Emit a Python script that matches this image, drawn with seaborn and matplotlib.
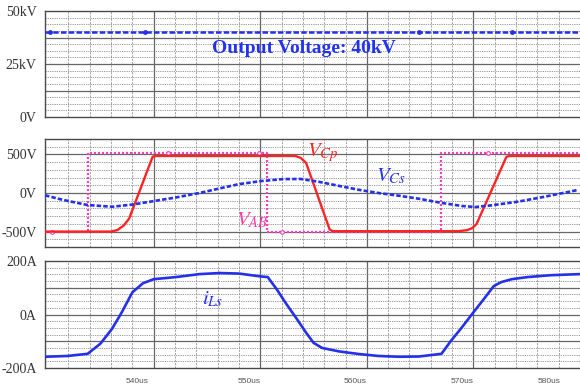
import numpy as np
import pandas as pd
import matplotlib
matplotlib.use("Agg")
import matplotlib.pyplot as plt
from matplotlib.transforms import ScaledTranslation
import seaborn as sns

# ---------------- data ----------------
# Output voltage (kV)
t_out = [529.8, 580.0]
v_out = [40.0, 40.0]
t_out_mk = [530.3, 539.2, 564.9, 573.6]
v_out_mk = [40.0, 40.0, 40.0, 40.0]

# V_Cp (V), red
t_cp = [529.8, 536.0, 536.6, 537.2, 537.7, 539.9, 540.2, 553.3, 553.8, 554.3,
        556.5, 556.8, 568.6, 569.4, 569.9, 570.3, 573.1, 573.4, 580.0]
v_cp = [-500, -500, -480, -420, -330, 470, 480, 480, 455, 390,
        -470, -495, -495, -482, -455, -400, 470, 480, 480]

# V_AB (V), pink dotted
t_ab = [529.8, 533.8, 533.8, 550.6, 550.6, 567.0, 567.0, 580.0]
v_ab = [-510, -510, 520, 520, -510, -510, 520, 520]
t_ab_mk = [530.5, 541.3, 549.9, 552.0, 571.4]
v_ab_mk = [-510, 520, 520, -510, 520]

# V_Cs (V), blue dashed
t_cs = [529.8, 531.5, 533.8, 536.1, 538.0, 540.0, 542.0, 544.3, 546.2, 548.0,
        550.1, 552.1, 553.8, 555.5, 557.4, 559.3, 561.1, 563.0, 564.9, 567.0,
        568.9, 570.2, 571.7, 574.2, 576.7, 579.8]
v_cs = [-30, -90, -156, -178, -150, -105, -60, 0, 60, 115,
        155, 180, 182, 145, 92, 40, 0, -35, -75, -128,
        -168, -182, -160, -112, -48, 39]

# i_Ls (A), blue solid
t_ls = [529.8, 531.9, 533.8, 535.0, 536.1, 537.0, 538.0, 539.0, 540.0, 542.1,
        544.3, 546.2, 548.0, 550.1, 550.7, 551.6, 552.4, 553.4, 554.3, 555.0,
        555.8, 557.4, 559.3, 561.1, 563.0, 564.9, 567.0, 567.9, 568.9, 570.0,
        571.1, 571.9, 572.6, 573.6, 575.1, 577.3, 580.0]
i_ls = [-158, -155, -147, -109, -53, 8, 83, 117, 132, 140,
        151, 155, 153, 142, 140, 91, 42, -15, -68, -106,
        -125, -138, -148, -155, -158, -157, -147, -98, -49, 8,
        64, 106, 121, 132, 140, 147, 151]

x_ticks = [540, 550, 560, 570, 580]
x_labels = ["540us", "550us", "560us", "570us", "580us"]

# ---------------- style ----------------
sns.set_style("white")
plt.rcParams["font.family"] = ["Liberation Serif", "DejaVu Serif"]
plt.rcParams["mathtext.fontset"] = "stix"

BLUE = "#2430ea"
RED = "#ff2424"
PINK = "#ff3cc0"
FRAME = "#4a4a4a"

fig = plt.figure(figsize=(5.8, 3.91), dpi=100)
L = 45 / 580
W = 1 - L
H = 391.0
ax1 = fig.add_axes([L, 1 - 117 / H, W, 106 / H])
ax2 = fig.add_axes([L, 1 - 247 / H, W, 108 / H])
ax3 = fig.add_axes([L, 1 - 368 / H, W, 107 / H])


def style(ax, ylim, major, minor_step, yt, yl):
    ax.set_xlim(529.8, 580.0)
    ax.set_ylim(*ylim)
    for x in np.arange(532, 580, 2):
        if x % 10 == 0:
            ax.axvline(x, color="#666666", lw=0.9, zorder=1)
        else:
            ax.axvline(x, color="#959595", lw=0.6, ls=(0, (2.5, 1.5)), zorder=1)
    for y in np.arange(ylim[0], ylim[1] + 1e-6, minor_step):
        ax.axhline(y, color="#8c8c8c", lw=0.6, ls=(0, (1.5, 1.2)), zorder=1)
    for y in major:
        ax.axhline(y, color="#666666", lw=0.9, zorder=1)
    ax.set_yticks(yt)
    ax.set_yticklabels(yl)
    ax.tick_params(axis="y", length=5, width=0.9, color=FRAME, pad=1,
                   labelsize=10, labelcolor="#333333")
    ax.set_xticks(x_ticks)
    ax.tick_params(axis="x", length=0)
    for s in ["left", "top", "bottom"]:
        ax.spines[s].set_color(FRAME)
        ax.spines[s].set_linewidth(1.0)
    ax.spines["right"].set_visible(False)


def line(ax, t, v, **kw):
    df = pd.DataFrame({"t": t, "v": v})
    sns.lineplot(data=df, x="t", y="v", ax=ax, sort=False, estimator=None,
                 errorbar=None, legend=False, **kw)


style(ax1, (0, 50), [12.5, 25, 37.5], 3.125, [0, 25, 50], ["0V", "25kV", "50kV"])
style(ax2, (-700, 700), [-500, 0, 500], 100, [-500, 0, 500], ["-500V", "0V", "500V"])
style(ax3, (-200, 200), [-100, 0, 100], 25, [-200, 0, 200], ["-200A", "0A", "200A"])

# ---------------- top panel ----------------
line(ax1, t_out, v_out, color=BLUE, lw=1.8, ls=(0, (2.2, 0.9)), zorder=3)
ax1.scatter(t_out_mk, v_out_mk, s=6, color=BLUE, zorder=4)
ax1.text(554.1, 32.3, "Output Voltage: 40kV", color="#2233ee", fontsize=14,
         fontweight="bold", ha="center", va="center", zorder=5)

# ---------------- middle panel ----------------
line(ax2, t_ab, v_ab, color=PINK, lw=1.6, ls=(0, (0.9, 0.9)), zorder=3)
ax2.scatter(t_ab_mk, v_ab_mk, s=7, facecolor="white", edgecolor=PINK,
            lw=0.8, zorder=4)
line(ax2, t_cp, v_cp, color=RED, lw=1.7, zorder=4)
line(ax2, t_cs, v_cs, color=BLUE, lw=1.9, ls=(0, (1.7, 0.8)), zorder=5)
ax2.text(555.9, 530, r"$V_{Cp}$", color=RED, fontsize=15, ha="center", va="center", zorder=6)
ax2.text(562.3, 210, r"$V_{Cs}$", color=BLUE, fontsize=15, ha="center", va="center", zorder=6)
ax2.text(549.2, -350, r"$V_{AB}$", color="#ff3aa8", fontsize=15, ha="center", va="center", zorder=6)

# ---------------- bottom panel ----------------
line(ax3, t_ls, i_ls, color=BLUE, lw=1.9, zorder=4)
ax3.text(545.5, 55, r"$i_{Ls}$", color=BLUE, fontsize=15, ha="center", va="center", zorder=6)

for ax in (ax1, ax2, ax3):
    ax.set_xlabel("")
    ax.set_ylabel("")
    ax.set_xlim(529.8, 580.0)
    ax.set_xticks(x_ticks)

ax1.set_xticklabels([])
ax2.set_xticklabels([])
ax3.set_xticklabels(x_labels, fontfamily="Liberation Sans", fontsize=6,
                    color="#555555", ha="right")
ax3.tick_params(axis="x", pad=7, length=0)
lbls = ax3.get_xticklabels()
lbls[-1].set_transform(lbls[-1].get_transform() +
                       ScaledTranslation(-0.19, 0, fig.dpi_scale_trans))
lbls[0].set_transform(lbls[0].get_transform() +
                      ScaledTranslation(-0.05, 0, fig.dpi_scale_trans))

fig.savefig("out.png", dpi=100)
